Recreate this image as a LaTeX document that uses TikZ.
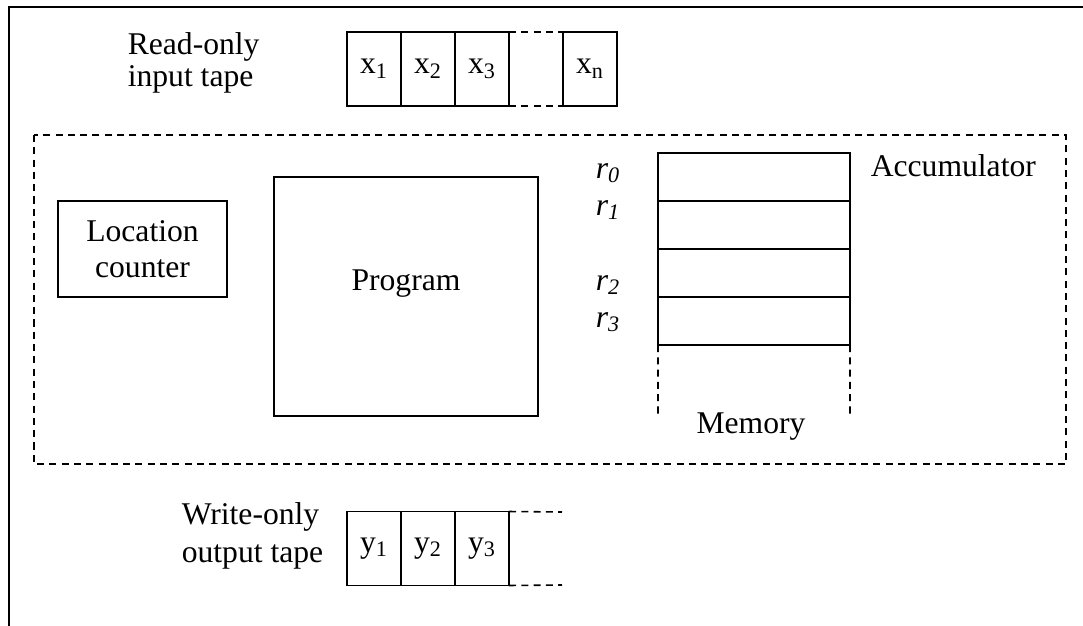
\documentclass[tikz,border=0pt]{standalone}
\usepackage{fontspec}
\setmainfont{Liberation Serif}
\usetikzlibrary{positioning}

\begin{document}
\begin{tikzpicture}[x=0.02cm, y=-0.02cm, line width=0.9pt,
  font=\fontsize{18}{18.2}\selectfont,
  cell/.style={draw, minimum width=1.08cm, minimum height=1.48cm, inner sep=0pt, outer sep=0pt},
  reg/.style={draw, minimum width=3.84cm, minimum height=0.96cm, inner sep=0pt, outer sep=0pt},
  gap/.style={dash pattern=on 4pt off 3pt},
  rlabel/.style={anchor=base, font=\fontsize{18}{18.2}\selectfont\itshape}]

\useasboundingbox (0,0) rectangle (1083,626);

% outer frame
\draw (9,626) -- (9,7) -- (1083,7);

% input tape
\node[align=left, anchor=west, inner sep=0pt] (intext) at (127,63) {Read-only\\input tape};
\node[cell] (x1) at (374,69) {x\textsubscript{1}};
\node[cell, right=0pt of x1] (x2) {x\textsubscript{2}};
\node[cell, right=0pt of x2] (x3) {x\textsubscript{3}};
\node[cell] (xn) at (590,69) {x\textsubscript{n}};
\draw[gap] (x3.north east) -- (xn.north west);
\draw[gap] (x3.south east) -- (xn.south west);

% the machine
\draw[gap] (34,135) rectangle (1066,464);

\node[draw, minimum width=3.38cm, minimum height=1.92cm, align=center] (loc) at (142.5,249) {Location\\[2.3pt]counter};

\node[draw, minimum width=5.28cm, minimum height=4.78cm] (prog) at (406,296.5) {};
\node[anchor=base] (progtext) at (406,290) {Program};

% registers
\foreach \i in {0,...,3}
  \node[reg] (r\i) at (754,177+48*\i) {};
\node[rlabel] (rl0) at (608,178) {r\textsubscript{0}};
\node[rlabel] (rl1) at (608,215) {r\textsubscript{1}};
\node[rlabel] (rl2) at (608,290) {r\textsubscript{2}};
\node[rlabel] (rl3) at (608,327) {r\textsubscript{3}};
\node[anchor=base west, inner sep=0pt] (acc) at (870,176) {Accumulator};

\coordinate (memL) at (658,417);
\coordinate (memR) at (850,417);
\draw[gap] (r3.south west) -- (memL);
\draw[gap] (r3.south east) -- (memR);
\node[anchor=base] (memtext) at (751,433) {Memory};

% output tape
\node[align=left, anchor=west, inner sep=0pt] (outtext) at (181,536) {Write-only\\[3pt]output tape};
\node[cell] (y1) at (374,548.5) {y\textsubscript{1}};
\node[cell, right=0pt of y1] (y2) {y\textsubscript{2}};
\node[cell, right=0pt of y2] (y3) {y\textsubscript{3}};
\coordinate (ytop) at (562,512);
\coordinate (ybot) at (562,585);
\draw[gap] (y3.north east) -- (ytop);
\draw[gap] (y3.south east) -- (ybot);

\end{tikzpicture}
\end{document}
